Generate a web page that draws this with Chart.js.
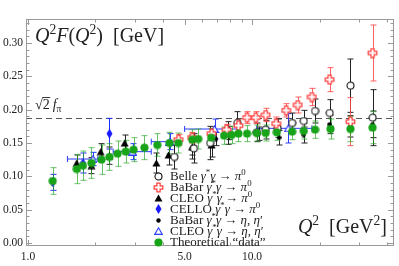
<!DOCTYPE html>
<html lang="en">
<head>
<meta charset="UTF-8">
<title>Q2 F(Q2)</title>
<script src="https://cdn.jsdelivr.net/npm/chart.js"></script>
<style>
  body { margin: 0; background: #fff; }
  #wrap { width: 399px; height: 266px; position: relative; }
</style>
</head>
<body>
<div id="wrap"><canvas id="tff"></canvas></div>
<script>
// values: Q^2 [GeV^2], Q^2 F(Q^2) [GeV], +- error
const belleQ2  = [4.5, 5.5, 6.5, 7.8, 8.6, 10.5, 11.5, 13.0, 15.1, 17.0, 19.1, 22.2, 27.5, 34.5];
const belleF   = [0.129, 0.142, 0.150, 0.165, 0.180, 0.166, 0.170, 0.172, 0.180, 0.183, 0.198, 0.195, 0.236, 0.188];
const belleErr = [0.018, 0.022, 0.025, 0.017, 0.017, 0.014, 0.014, 0.014, 0.015, 0.016, 0.018, 0.020, 0.040, 0.042];

const babarQ2  = [4.7, 5.4, 6.6, 7.7, 8.7, 9.5, 10.4, 11.5, 12.8, 14.2, 16.0, 18.5, 22.2, 27.5, 34.5];
const babarF   = [0.155, 0.158, 0.164, 0.170, 0.176, 0.188, 0.188, 0.192, 0.179, 0.199, 0.207, 0.219, 0.245, 0.182, 0.285];
const babarErr = [0.008, 0.008, 0.008, 0.008, 0.009, 0.009, 0.009, 0.010, 0.010, 0.010, 0.012, 0.013, 0.018, 0.036, 0.042];

const cleoQ2   = [1.65, 1.92, 2.11, 2.31, 2.70, 3.74, 4.24, 5.4, 6.6];
const cleoF    = [0.120, 0.116, 0.137, 0.131, 0.150, 0.120, 0.132, 0.144, 0.147];
const cleoErr  = [0.012, 0.012, 0.012, 0.013, 0.012, 0.015, 0.015, 0.018, 0.018];

const celloQ2  = [1.29, 1.76, 2.31];
const celloF   = [0.091, 0.120, 0.164];
const celloErr = [0.012, 0.015, 0.023];

const babarEtaQ2  = [5.4, 6.9, 7.9, 10.7, 13.2, 17.0, 22.2, 27.5, 34.5];
const babarEtaF   = [0.142, 0.156, 0.165, 0.164, 0.158, 0.162, 0.178, 0.175, 0.178];
const babarEtaErr = [0.010, 0.010, 0.010, 0.010, 0.011, 0.012, 0.014, 0.016, 0.020];

const cleoEtaQ2   = [1.95, 2.93, 4.3, 6.8, 14.5];
const cleoEtaQlo  = [1.5, 2.4, 3.55, 5.0, 10.5];
const cleoEtaQhi  = [2.05, 3.55, 4.6, 8.6, 18.5];
const cleoEtaF    = [0.126, 0.137, 0.152, 0.171, 0.172];
const cleoEtaErr  = [0.010, 0.012, 0.012, 0.015, 0.022];

const thQ2  = [1.29, 1.65, 1.76, 1.92, 2.13, 2.31, 2.51, 2.73, 2.96, 3.31, 3.78, 4.28, 4.69, 5.41, 5.75, 6.57, 7.5, 8.1, 8.7, 9.5, 10.5, 11.5, 12.9, 15.1, 17.0, 19.1, 22.4, 27.5, 34.5];
const thF   = [0.093, 0.111, 0.116, 0.120, 0.125, 0.129, 0.134, 0.137, 0.140, 0.143, 0.147, 0.150, 0.150, 0.155, 0.156, 0.158, 0.161, 0.162, 0.164, 0.164, 0.165, 0.165, 0.166, 0.167, 0.168, 0.170, 0.171, 0.171, 0.173];
const thErr = [0.020, 0.022, 0.022, 0.023, 0.022, 0.020, 0.019, 0.017, 0.018, 0.018, 0.017, 0.016, 0.015, 0.015, 0.015, 0.014, 0.013, 0.013, 0.012, 0.012, 0.012, 0.012, 0.012, 0.012, 0.012, 0.013, 0.015, 0.019, 0.024];

const xTickLabels = [1, 5, 10];
const xMinorTicks = [2, 3, 4, 6, 7, 8, 9, 20, 30, 40];
const yTickLabels = [0, 0.05, 0.10, 0.15, 0.20, 0.25, 0.30];
const sqrt2fpi = 0.187;

const SERIF = '"Liberation Serif", "DejaVu Serif", serif';

// little canvases used as point styles (and reused in the legend)
function marker(kind) {
  const c = document.createElement('canvas');
  const sizes = { circ: [9, 9], cross: [11, 11], tri: [9, 8], diam: [7, 10], dot: [5, 5], otri: [9, 8], green: [9, 9] };
  c.width = sizes[kind][0]; c.height = sizes[kind][1];
  const g = c.getContext('2d');
  g.lineWidth = 1.1;
  g.beginPath();
  if (kind === 'circ') {
    g.arc(4.5, 4.5, 3.5, 0, Math.PI * 2); g.fillStyle = '#fff'; g.fill(); g.strokeStyle = '#111'; g.stroke();
  } else if (kind === 'cross') {
    const a = 1.6, L = 4.3, cx = 5.5, cy = 5.5;
    const pts = [[-a,-L],[a,-L],[a,-a],[L,-a],[L,a],[a,a],[a,L],[-a,L],[-a,a],[-L,a],[-L,-a],[-a,-a]];
    pts.forEach((p, i) => i ? g.lineTo(cx + p[0], cy + p[1]) : g.moveTo(cx + p[0], cy + p[1]));
    g.closePath(); g.fillStyle = '#fff'; g.fill(); g.strokeStyle = '#ff3b3b'; g.lineWidth = 1.2; g.stroke();
  } else if (kind === 'tri') {
    g.moveTo(4.5, 0.5); g.lineTo(8.5, 7.5); g.lineTo(0.5, 7.5); g.closePath(); g.fillStyle = '#000'; g.fill();
  } else if (kind === 'diam') {
    g.moveTo(3.5, 0); g.lineTo(6.5, 5); g.lineTo(3.5, 10); g.lineTo(0.5, 5); g.closePath(); g.fillStyle = '#1a1aff'; g.fill();
  } else if (kind === 'dot') {
    g.arc(2.5, 2.5, 2.2, 0, Math.PI * 2); g.fillStyle = '#000'; g.fill();
  } else if (kind === 'otri') {
    g.moveTo(4.5, 0.8); g.lineTo(8.3, 7.4); g.lineTo(0.7, 7.4); g.closePath(); g.fillStyle = '#fff'; g.fill(); g.strokeStyle = '#2a3cff'; g.stroke();
  } else {
    g.arc(4.5, 4.5, 4.1, 0, Math.PI * 2); g.fillStyle = '#18a418'; g.fill();
  }
  return c;
}

function pts(q2, f, err, lo, hi) {
  return q2.map((q, i) => ({ x: q, y: f[i], e: err[i], xl: lo ? lo[i] : null, xh: hi ? hi[i] : null }));
}

const series = [
  { label: 'Theoretical “data”', data: pts(thQ2, thF, thErr), style: marker('green'), errColor: 'rgba(40,170,40,0.7)' },
  { label: 'BaBar pi0', data: pts(babarQ2, babarF, babarErr), style: marker('cross'), errColor: 'rgba(255,70,70,0.85)' },
  { label: 'Belle pi0', data: pts(belleQ2, belleF, belleErr), style: marker('circ'), errColor: '#222' },
  { label: 'CLEO pi0', data: pts(cleoQ2, cleoF, cleoErr), style: marker('tri'), errColor: '#222' },
  { label: 'CELLO pi0', data: pts(celloQ2, celloF, celloErr), style: marker('diam'), errColor: '#1f2fff' },
  { label: 'BaBar eta', data: pts(babarEtaQ2, babarEtaF, babarEtaErr), style: marker('dot'), errColor: '#222' },
  { label: 'CLEO eta', data: pts(cleoEtaQ2, cleoEtaF, cleoEtaErr, cleoEtaQlo, cleoEtaQhi), style: marker('otri'), errColor: '#2a3cff' }
];

// error bars + dashed sqrt(2) f_pi line, under the markers
const errorBars = {
  id: 'errorBars',
  beforeDatasetsDraw(chart) {
    const { ctx, chartArea: a, scales: { x, y } } = chart;
    ctx.save();
    ctx.beginPath(); ctx.rect(a.left, a.top, a.width, a.height); ctx.clip();

    const yl = Math.round(y.getPixelForValue(sqrt2fpi)) + 0.5;
    ctx.strokeStyle = '#555'; ctx.lineWidth = 1; ctx.setLineDash([6, 4]);
    ctx.beginPath(); ctx.moveTo(a.left, yl); ctx.lineTo(a.right, yl); ctx.stroke();
    ctx.setLineDash([]);

    for (let d = chart.data.datasets.length - 1; d >= 0; d--) {
      const ds = chart.data.datasets[d];
      ctx.strokeStyle = ds.errColor; ctx.lineWidth = 1;
      ds.data.forEach(p => {
        const px = Math.round(x.getPixelForValue(p.x)) + 0.5;
        const py = y.getPixelForValue(p.y);
        const t = y.getPixelForValue(p.y + p.e), b = y.getPixelForValue(p.y - p.e);
        ctx.beginPath();
        ctx.moveTo(px, t); ctx.lineTo(px, b);
        ctx.moveTo(px - 3, t); ctx.lineTo(px + 3, t);
        ctx.moveTo(px - 3, b); ctx.lineTo(px + 3, b);
        if (p.xl) {
          const l = x.getPixelForValue(p.xl), r = x.getPixelForValue(p.xh);
          ctx.moveTo(l, py); ctx.lineTo(r, py);
          ctx.moveTo(l, py - 3); ctx.lineTo(l, py + 3);
          ctx.moveTo(r, py - 3); ctx.lineTo(r, py + 3);
        }
        ctx.stroke();
      });
    }
    ctx.restore();
  }
};

// frame with inward ticks on all four sides (Mathematica style)
const frame = {
  id: 'frame',
  afterDatasetsDraw(chart) {
    const { ctx, chartArea: a, scales: { x, y } } = chart;
    ctx.save();
    ctx.strokeStyle = '#999'; ctx.lineWidth = 1;
    ctx.strokeRect(a.left + 0.5, a.top + 0.5, a.width - 1, a.height - 1);
    ctx.beginPath();
    const xt = (v, len) => {
      const px = Math.round(x.getPixelForValue(v)) + 0.5;
      ctx.moveTo(px, a.bottom); ctx.lineTo(px, a.bottom - len);
      ctx.moveTo(px, a.top); ctx.lineTo(px, a.top + len);
    };
    xTickLabels.forEach(v => xt(v, 6));
    xMinorTicks.forEach(v => xt(v, 3.5));
    const yt = (v, len) => {
      const py = Math.round(y.getPixelForValue(v)) + 0.5;
      ctx.moveTo(a.left, py); ctx.lineTo(a.left + len, py);
      ctx.moveTo(a.right, py); ctx.lineTo(a.right - len, py);
    };
    for (let k = 0; k <= 33; k++) yt(k / 100, k % 5 === 0 ? 6 : 3.5);
    ctx.stroke();
    ctx.restore();
  }
};

// text made of roman / italic / superscript / subscript pieces
function drawRich(ctx, parts, x, y, size, align) {
  const font = p => (p[1] === 'i' ? 'italic ' : '') + (p[1] === 'sup' || p[1] === 'sub' ? size * 0.68 : size) + 'px ' + SERIF;
  let w = 0;
  parts.forEach(p => { ctx.font = font(p); w += ctx.measureText(p[0]).width; });
  let cx = align === 'right' ? x - w : x;
  parts.forEach(p => {
    ctx.font = font(p);
    const dy = p[1] === 'sup' ? -size * 0.42 : p[1] === 'sub' ? size * 0.22 : 0;
    ctx.fillText(p[0], cx, y + dy);
    cx += ctx.measureText(p[0]).width;
  });
  return cx;
}

const legendRows = [
  { m: marker('circ'),  t: [['Belle ', 'r'], ['γ', 'i'], ['*', 'sup'], ['γ', 'i'], [' → ', 'r'], ['π', 'i'], ['0', 'sup']] },
  { m: marker('cross'), t: [['BaBar ', 'r'], ['γ', 'i'], ['*', 'sup'], ['γ', 'i'], [' → ', 'r'], ['π', 'i'], ['0', 'sup']] },
  { m: marker('tri'),   t: [['CLEO ', 'r'], ['γ', 'i'], ['*', 'sup'], ['γ', 'i'], [' → ', 'r'], ['π', 'i'], ['0', 'sup']] },
  { m: marker('diam'),  t: [['CELLO ', 'r'], ['γ', 'i'], ['*', 'sup'], ['γ', 'i'], [' → ', 'r'], ['π', 'i'], ['0', 'sup']] },
  { m: marker('dot'),   t: [['BaBar ', 'r'], ['γ', 'i'], ['*', 'sup'], ['γ', 'i'], [' → ', 'r'], ['η', 'i'], [', ', 'r'], ['η', 'i'], ['′', 'r']] },
  { m: marker('otri'),  t: [['CLEO ', 'r'], ['γ', 'i'], ['*', 'sup'], ['γ', 'i'], [' → ', 'r'], ['η', 'i'], [', ', 'r'], ['η', 'i'], ['′', 'r']] },
  { m: marker('green'), t: [['Theoretical “data”', 'r']] }
];

const labels = {
  id: 'labels',
  afterDraw(chart) {
    const { ctx } = chart;
    ctx.save();
    ctx.fillStyle = '#222';
    ctx.textBaseline = 'alphabetic';
    drawRich(ctx, [['Q', 'i'], ['2', 'sup'], ['F', 'i'], ['(', 'r'], ['Q', 'i'], ['2', 'sup'], [')', 'r'], ['  [GeV]', 'r']], 35, 42, 20);
    drawRich(ctx, [['Q', 'i'], ['2', 'sup'], ['  [GeV', 'r'], ['2', 'sup'], [']', 'r']], 387, 233, 20, 'right');

    // sqrt(2) f_pi
    ctx.font = '14px ' + SERIF;
    const w1 = ctx.measureText('√').width, w2 = ctx.measureText('2').width;
    ctx.fillText('√', 35, 109);
    ctx.fillText('2', 35 + w1, 109);
    ctx.strokeStyle = '#222'; ctx.lineWidth = 0.9;
    ctx.beginPath(); ctx.moveTo(35 + w1 - 0.5, 97.5); ctx.lineTo(35 + w1 + w2 + 0.5, 97.5); ctx.stroke();
    drawRich(ctx, [['f', 'i'], ['π', 'sub']], 35 + w1 + w2 + 3, 109, 14);

    legendRows.forEach((r, i) => {
      const cy = 176 + i * 11;
      ctx.drawImage(r.m, Math.round(158 - r.m.width / 2), Math.round(cy - r.m.height / 2));
      drawRich(ctx, r.t, 170, cy + 4, 13);
    });
    ctx.restore();
  }
};

const tickFont = { family: SERIF, size: 11.5 };

new Chart(document.getElementById('tff'), {
  type: 'scatter',
  data: {
    datasets: series.map(s => ({
      label: s.label,
      data: s.data,
      pointStyle: s.style,
      pointRadius: 4,
      showLine: false,
      errColor: s.errColor
    }))
  },
  options: {
    responsive: true,
    maintainAspectRatio: false,
    animation: false,
    layout: { padding: { top: 19, right: 3, left: 0, bottom: 0 } },
    plugins: { legend: { display: false }, tooltip: { enabled: false } },
    scales: {
      x: {
        type: 'logarithmic',
        min: 0.98,
        max: 43,
        grid: { display: false, drawTicks: false },
        border: { display: false },
        afterBuildTicks: s => { s.ticks = xTickLabels.map(v => ({ value: v })); },
        afterFit: s => { s.height = 20; },
        ticks: { autoSkip: false, maxRotation: 0, padding: 4, color: '#222', font: tickFont, callback: v => Number(v).toFixed(1) }
      },
      y: {
        min: -0.0045,
        max: 0.336,
        grid: { display: false, drawTicks: false },
        border: { display: false },
        afterBuildTicks: s => { s.ticks = yTickLabels.map(v => ({ value: v })); },
        afterFit: s => { s.width = 26; },
        ticks: { autoSkip: false, padding: 3, color: '#222', font: tickFont, callback: v => Number(v).toFixed(2) }
      }
    }
  },
  plugins: [errorBars, frame, labels]
});
</script>
</body>
</html>
